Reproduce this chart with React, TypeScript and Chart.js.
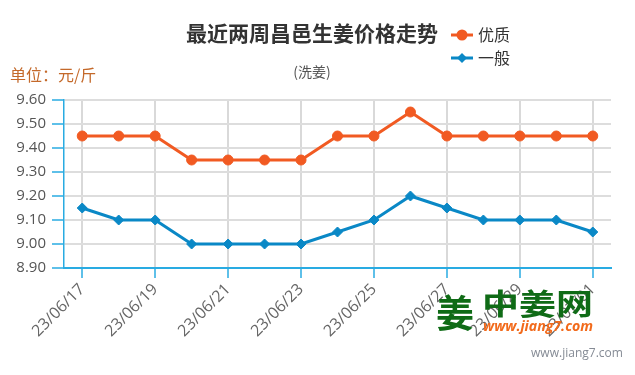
import React, { useEffect, useRef } from "react";
import { Chart, registerables } from "chart.js";

Chart.register(...registerables);

const dates = [
  "23/06/17", "23/06/18", "23/06/19", "23/06/20", "23/06/21", "23/06/22", "23/06/23",
  "23/06/24", "23/06/25", "23/06/26", "23/06/27", "23/06/28", "23/06/29", "23/06/30", "23/07/01",
];
const premium = [9.45, 9.45, 9.45, 9.35, 9.35, 9.35, 9.35, 9.45, 9.45, 9.55, 9.45, 9.45, 9.45, 9.45, 9.45];
const ordinary = [9.15, 9.1, 9.1, 9.0, 9.0, 9.0, 9.0, 9.05, 9.1, 9.2, 9.15, 9.1, 9.1, 9.1, 9.05];
const yMin = 8.9;
const yMax = 9.6;
const yStep = 0.1;

const titleText = "最近两周昌邑生姜价格走势";
const subtitleText = "(洗姜)";
const unitText = "单位：元/斤";
const seriesNames = ["优质", "一般"];

const ORANGE = "#f15a22";
const BLUE = "#0a88c6";
const AXIS_BLUE = "#29abe2";
const CJK = '"Noto Sans CJK SC", "Noto Sans", sans-serif';
const LATIN = '"Open Sans", "Noto Sans", sans-serif';

function fitText(ctx: CanvasRenderingContext2D, text: string, x: number, y: number, width: number) {
  const w = ctx.measureText(text).width;
  ctx.save();
  ctx.translate(x, y);
  ctx.scale(width / w, 1);
  ctx.textAlign = "left";
  ctx.fillText(text, 0, 0);
  ctx.restore();
}

const decorPlugin = {
  id: "decor",
  afterDraw(chart: any) {
    const ctx = chart.ctx as CanvasRenderingContext2D;
    ctx.save();
    ctx.textBaseline = "middle";
    // title
    ctx.fillStyle = "#333333";
    ctx.font = `bold 21px ${CJK}`;
    ctx.textAlign = "center";
    ctx.fillText(titleText, 312, 33);
    // subtitle
    ctx.fillStyle = "#555555";
    ctx.font = `14px ${CJK}`;
    ctx.fillText(subtitleText, 312, 72);
    // unit
    ctx.fillStyle = "#c4692a";
    ctx.font = `16px ${CJK}`;
    ctx.textAlign = "left";
    ctx.fillText(unitText, 10, 75);
    // legend
    const items = [
      { name: seriesNames[0], color: ORANGE, y: 35, shape: "circle" },
      { name: seriesNames[1], color: BLUE, y: 58, shape: "diamond" },
    ];
    for (const it of items) {
      ctx.strokeStyle = it.color;
      ctx.lineWidth = 3;
      ctx.beginPath();
      ctx.moveTo(451, it.y);
      ctx.lineTo(473, it.y);
      ctx.stroke();
      ctx.fillStyle = it.color;
      ctx.beginPath();
      if (it.shape === "circle") {
        ctx.arc(462, it.y, 5.5, 0, Math.PI * 2);
      } else {
        ctx.moveTo(462, it.y - 5);
        ctx.lineTo(467, it.y);
        ctx.lineTo(462, it.y + 5);
        ctx.lineTo(457, it.y);
        ctx.closePath();
      }
      ctx.fill();
      ctx.fillStyle = "#333333";
      ctx.font = `16px ${CJK}`;
      ctx.textAlign = "left";
      ctx.fillText(it.name, 478, it.y);
    }
    // watermark logo
    ctx.fillStyle = "#0f6b16";
    ctx.font = `bold 38px ${CJK}`;
    ctx.textAlign = "center";
    ctx.fillText("姜", 455, 313);
    ctx.font = `bold 29px ${CJK}`;
    fitText(ctx, "中姜网", 482, 304, 111);
    ctx.fillStyle = "#f26a1b";
    ctx.font = `italic bold 14px ${LATIN}`;
    fitText(ctx, "www.jiang7.com", 483, 327, 110);
    ctx.fillStyle = "#858b95";
    ctx.font = `13px ${LATIN}`;
    fitText(ctx, "www.jiang7.com", 531, 353, 92);
    ctx.restore();
  },
};

export default function App() {
  const ref = useRef<HTMLCanvasElement | null>(null);
  useEffect(() => {
    if (!ref.current) return;
    const chart = new Chart(ref.current, {
      type: "line",
      data: {
        labels: dates,
        datasets: [
          {
            label: seriesNames[0],
            data: premium,
            borderColor: ORANGE,
            backgroundColor: ORANGE,
            borderWidth: 3,
            pointStyle: "circle",
            pointRadius: 5,
            pointBorderWidth: 1,
            tension: 0,
          },
          {
            label: seriesNames[1],
            data: ordinary,
            borderColor: BLUE,
            backgroundColor: BLUE,
            borderWidth: 3,
            pointStyle: "rectRot",
            pointRadius: 5,
            pointBorderWidth: 1,
            tension: 0,
          },
        ],
      },
      options: {
        responsive: false,
        animation: false,
        layout: { padding: { top: 100, right: 24, left: 0, bottom: 0 } },
        plugins: { legend: { display: false }, title: { display: false }, tooltip: { enabled: false } },
        scales: {
          x: {
            type: "category",
            offset: true,
            afterFit: (s: any) => {
              s.height = 107;
            },
            grid: {
              offset: false,
              color: "#d9d9d9",
              lineWidth: 2,
              tickColor: AXIS_BLUE,
              tickLength: 10,
              tickWidth: 1.5,
            },
            border: { color: AXIS_BLUE, width: 2 },
            ticks: {
              autoSkip: false,
              maxRotation: 45,
              minRotation: 45,
              padding: 2,
              color: "#666666",
              font: { family: LATIN, size: 16 },
              callback: (_v: any, i: number) => (i % 2 === 0 ? dates[i] : null),
            },
          },
          y: {
            min: yMin,
            max: yMax,
            afterFit: (s: any) => {
              s.width = 64;
            },
            grid: {
              color: "#dddddd",
              lineWidth: 2,
              tickColor: AXIS_BLUE,
              tickLength: 12,
              tickWidth: 1.5,
            },
            border: { color: AXIS_BLUE, width: 1.5 },
            ticks: {
              stepSize: yStep,
              padding: 6,
              color: "#555555",
              font: { family: LATIN, size: 15 },
              callback: (v: any) => Number(v).toFixed(2),
            },
          },
        },
      },
      plugins: [decorPlugin],
    });
    return () => chart.destroy();
  }, []);
  return (
    <div style={{ position: "fixed", left: 0, top: 0, width: 635, height: 375, background: "#fff" }}>
      <canvas ref={ref} width={635} height={375} style={{ width: 635, height: 375, display: "block" }} />
    </div>
  );
}
